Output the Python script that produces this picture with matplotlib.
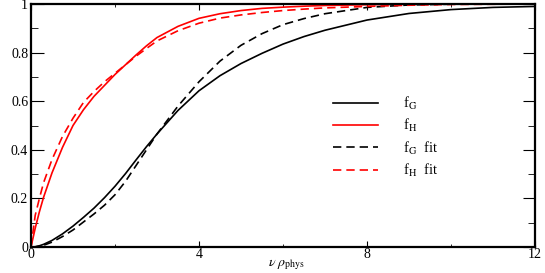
import numpy as np
import matplotlib.pyplot as plt

plt.rcParams['font.family'] = ['Liberation Serif', 'DejaVu Serif']
plt.rcParams['mathtext.fontset'] = 'stix'

# values
v = [0, 0.1, 0.2, 0.3, 0.5, 0.75, 1, 1.25, 1.5, 1.75, 2, 2.25, 2.5, 2.75, 3, 3.5,
     4, 4.5, 5, 5.5, 6, 6.5, 7, 8, 9, 10, 11, 12]
f_G = [0, 0.001, 0.005, 0.011, 0.027, 0.054, 0.086, 0.122, 0.16, 0.203, 0.25, 0.302,
       0.358, 0.413, 0.465, 0.562, 0.643, 0.705, 0.755, 0.797, 0.835, 0.866, 0.892,
       0.934, 0.961, 0.977, 0.986, 0.99]
f_H = [0, 0.077, 0.145, 0.205, 0.305, 0.41, 0.50, 0.565, 0.62, 0.665, 0.71, 0.75,
       0.79, 0.828, 0.862, 0.908, 0.941, 0.96, 0.973, 0.982, 0.987, 0.991, 0.994,
       0.997, 0.999, 1.0, 1.0, 1.0]
f_G_fit = [0, 0.0005, 0.003, 0.007, 0.02, 0.043, 0.07, 0.103, 0.136, 0.172, 0.215, 0.27,
           0.335, 0.40, 0.465, 0.58, 0.68, 0.765, 0.83, 0.878, 0.915, 0.94, 0.96,
           0.986, 0.996, 0.999, 1.0, 1.0]
f_H_fit = [0, 0.13, 0.20, 0.265, 0.36, 0.455, 0.53, 0.595, 0.64, 0.68, 0.715, 0.75,
           0.785, 0.817, 0.848, 0.89, 0.921, 0.942, 0.955, 0.965, 0.973, 0.979, 0.984,
           0.99, 0.995, 0.998, 0.999, 1.0]

fig = plt.figure(figsize=(5.45, 2.73), dpi=100)
ax = fig.add_axes([31/545, 26/273, 504/545, 243/273])

lw = 1.2
ax.plot(v, f_G, color='black', lw=lw, label=r'f$_{\rm G}$')
ax.plot(v, f_H, color='red', lw=lw, label=r'f$_{\rm H}$')
ax.plot(v, f_G_fit, color='black', lw=lw, dashes=(5, 3), label=r'f$_{\rm G}$  fit')
ax.plot(v, f_H_fit, color='red', lw=lw, dashes=(5, 3), label=r'f$_{\rm H}$  fit')

ax.set_xlim(0, 12)
ax.set_ylim(0, 1)
ax.set_xticks([0, 4, 8, 12])
ax.set_xticks([2, 6, 10], minor=True)
ax.set_yticks([0, 0.2, 0.4, 0.6, 0.8, 1])
ax.set_yticklabels(['0', '0.2', '0.4', '0.6', '0.8', '1'])
ax.set_yticks([0.1, 0.3, 0.5, 0.7, 0.9], minor=True)
ax.tick_params(axis='both', which='both', direction='in', top=True, right=True, labelsize=10)
ax.tick_params(axis='x', pad=1)
ax.tick_params(axis='y', pad=2)
ax.tick_params(axis='y', which='major', length=9)
ax.tick_params(axis='y', which='minor', length=5)
ax.tick_params(axis='x', which='major', length=4)
ax.tick_params(axis='x', which='minor', length=2.5)
for s in ax.spines.values():
    s.set_linewidth(1.6)

fig.text(286/545, 1 - 266/273, r'$\nu\ \rho_{\rm phys}$', fontsize=10, ha='center', va='baseline')

ax.legend(loc='upper left', bbox_to_anchor=(333/545, 1 - 95/273), bbox_transform=fig.transFigure,
          frameon=False, fontsize=10.5, handlelength=3.1, handletextpad=1.7,
          labelspacing=0.35, borderpad=0, borderaxespad=0)

fig.savefig('out.png', dpi=100)
